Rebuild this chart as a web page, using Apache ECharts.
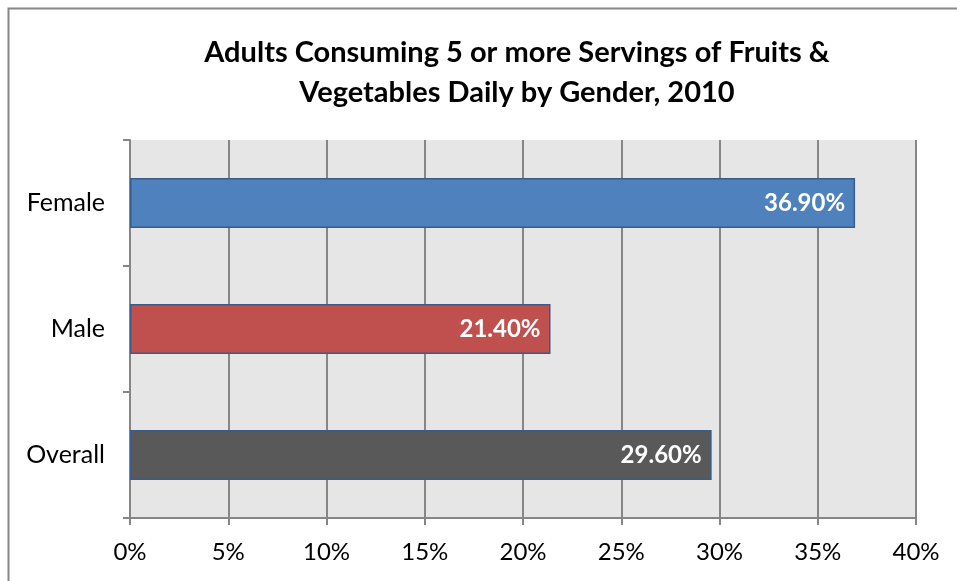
<!DOCTYPE html>
<html>
<head>
<meta charset="utf-8">
<script src="https://cdn.jsdelivr.net/npm/echarts@6/dist/echarts.min.js"></script>
<style>
  html, body { margin: 0; padding: 0; background: #fff; }
  #chart { width: 957px; height: 581px; }
</style>
</head>
<body>
<div id="chart"></div>
<script>
// data
const categories = ['Female', 'Male', 'Overall']
const values = [36.9, 21.4, 29.6]
const barColors = ['#4f81bd', '#c0504d', '#595959']

const chart = echarts.init(document.getElementById('chart'))

const option = {
  animation: false,
  title: {
    text: 'Adults Consuming 5 or more Servings of Fruits &\nVegetables Daily by Gender, 2010',
    left: 512,
    top: 28,
    textAlign: 'center',
    textStyle: {
      fontFamily: 'Lato',
      fontSize: 29,
      fontWeight: 'bold',
      color: '#000',
      lineHeight: 40,
    },
  },
  graphic: [
    {
      type: 'rect',
      shape: { x: 8.5, y: 8.5, width: 1000, height: 1000 },
      style: { fill: 'none', stroke: '#888', lineWidth: 2 },
      silent: true,
    },
  ],
  grid: {
    left: 130,
    right: 41,
    top: 140,
    bottom: 63,
    show: true,
    backgroundColor: '#e6e6e6',
    borderWidth: 0,
  },
  xAxis: {
    type: 'value',
    min: 0,
    max: 40,
    interval: 5,
    axisLine: { show: true, lineStyle: { color: '#868686', width: 2 } },
    axisTick: { show: true, length: 7, lineStyle: { color: '#868686', width: 2 } },
    splitLine: { show: true, lineStyle: { color: '#868686', width: 2 } },
    axisLabel: {
      formatter: '{value}%',
      fontFamily: 'Lato',
      fontSize: 24,
      color: '#000',
      margin: 22,
    },
  },
  yAxis: {
    type: 'category',
    inverse: true,
    data: categories,
    axisLine: { show: true, lineStyle: { color: '#868686', width: 2 } },
    axisTick: { show: true, length: 7, lineStyle: { color: '#868686', width: 2 } },
    axisLabel: {
      fontFamily: 'Lato',
      fontSize: 25,
      color: '#000',
      margin: 25,
    },
  },
  series: [
    {
      type: 'bar',
      barWidth: 50,
      data: values.map((v, i) => ({
        value: v,
        itemStyle: { color: barColors[i] },
      })),
      itemStyle: { borderColor: '#385d8a', borderWidth: 1.5 },
      label: {
        show: true,
        position: 'insideRight',
        distance: 10,
        formatter: p => p.value.toFixed(2) + '%',
        fontFamily: 'Lato',
        fontSize: 24,
        fontWeight: 'bold',
        color: '#fff',
      },
    },
  ],
}

chart.setOption(option)
</script>
</body>
</html>
